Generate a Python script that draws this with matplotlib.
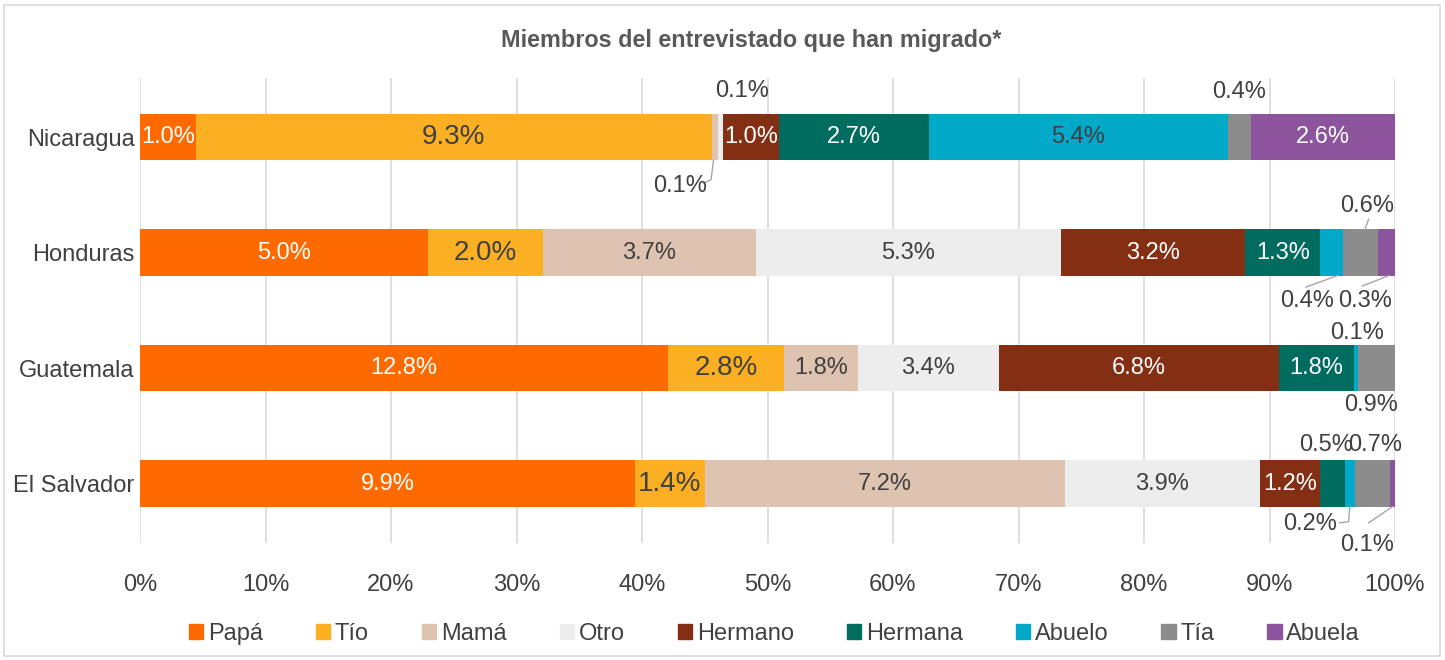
import matplotlib
matplotlib.use("Agg")
import matplotlib.pyplot as plt
from matplotlib.patches import Rectangle
from matplotlib.lines import Line2D
import numpy as np

plt.rcParams['font.family'] = ['Liberation Sans', 'DejaVu Sans']

title = "Miembros del entrevistado que han migrado*"
countries = ["Nicaragua", "Honduras", "Guatemala", "El Salvador"]
members = ["Papá", "Tío", "Mamá", "Otro", "Hermano", "Hermana", "Abuelo", "Tía", "Abuela"]
# values in % per country (Nicaragua, Honduras, Guatemala, El Salvador)
papa    = [1.0, 5.0, 12.8, 9.9]
tio     = [9.3, 2.0, 2.8, 1.4]
mama    = [0.1, 3.7, 1.8, 7.2]
otro    = [0.1, 5.3, 3.4, 3.9]
hermano = [1.0, 3.2, 6.8, 1.2]
hermana = [2.7, 1.3, 1.8, 0.5]
abuelo  = [5.4, 0.4, 0.1, 0.2]
tia     = [0.4, 0.6, 0.9, 0.7]
abuela  = [2.6, 0.3, 0.0, 0.1]
xticks = [0, 10, 20, 30, 40, 50, 60, 70, 80, 90, 100]

series = [papa, tio, mama, otro, hermano, hermana, abuelo, tia, abuela]
colors = ["#FF6A00", "#FBB024", "#DFC3B1", "#EDEDED", "#842F14",
          "#006B5F", "#03A9C9", "#8C8C8C", "#8B549C"]
label_colors = ["white", "#404040", "#404040", "#404040", "white",
                "white", "#404040", "#404040", "white"]
dark = "#404040"

vals = np.array(series, dtype=float)  # shape (9, 4)
totals = vals.sum(axis=0)
shares = vals / totals * 100

fig = plt.figure(figsize=(14.45, 6.6), dpi=100)
fig.patch.set_facecolor("white")
fig.patches.append(Rectangle((4/1445, 4/660), 1-9/1445, 1-9/660, transform=fig.transFigure,
                             fill=False, edgecolor="#D9D9D9", linewidth=1.2))

ax = fig.add_axes([140/1445, 1-543/660, 1255/1445, 465/660])
y = np.arange(len(countries))
left = np.zeros(len(countries))
for i, (m, c) in enumerate(zip(members, colors)):
    ax.barh(y, shares[i], left=left, height=0.4, color=c, label=m, zorder=3)
    left = left + shares[i]

ax.set_xlim(0, 100)
ax.set_ylim(3.515, -0.511)
ax.set_xticks(xticks)
ax.set_xticklabels([f"{t}%" for t in xticks], fontsize=17, color=dark)
ax.set_yticks(y)
ax.set_yticklabels(countries, fontsize=17, color=dark)
ax.tick_params(axis='x', length=0, pad=22)
ax.tick_params(axis='y', length=0, pad=4)
ax.grid(axis='x', color="#D9D9D9", linewidth=1.2, zorder=0)
for s in ax.spines.values():
    s.set_visible(False)

# in-bar labels for segments wide enough
starts = np.cumsum(np.vstack([np.zeros(4), shares[:-1]]), axis=0)
for i in range(len(members)):
    for j in range(len(countries)):
        v = vals[i, j]
        w = shares[i, j]
        if v <= 0 or w < 3.0:
            continue
        fs = 20 if i == 1 else 17
        ax.text(starts[i, j] + w / 2, j, f"{v:.1f}%", ha="center", va="center",
                fontsize=fs, color=label_colors[i], zorder=5)

# outside labels: (member idx, country idx, text x, text y, leader points or None)
outside = [
    (2, 0, 43.0, 0.42, [(45.7, 0.2), (45.5, 0.37), (44.9, 0.40)]),
    (3, 0, 48.0, -0.40, None),
    (7, 0, 87.6, -0.39, None),
    (7, 1, 97.8, 0.60, [(97.6, 0.80), (97.9, 0.71)]),
    (6, 1, 93.0, 1.42, [(95.4, 1.20), (92.9, 1.30)]),
    (8, 1, 97.6, 1.42, [(99.5, 1.20), (97.4, 1.29)]),
    (6, 2, 97.0, 1.70, None),
    (7, 2, 98.1, 2.32, None),
    (5, 3, 94.5, 2.67, None),
    (7, 3, 98.4, 2.67, None),
    (6, 3, 93.2, 3.35, [(96.4, 3.20), (96.3, 3.33), (95.6, 3.34)]),
    (8, 3, 97.8, 3.53, [(99.8, 3.20), (97.9, 3.34)]),
]
for i, j, tx, ty, pts in outside:
    ax.text(tx, ty, f"{vals[i, j]:.1f}%", ha="center", va="center",
            fontsize=17, color=dark, zorder=6, clip_on=False)
    if pts:
        xs, ys = zip(*pts)
        ax.add_line(Line2D(xs, ys, color="#A6A6A6", linewidth=1, zorder=4, clip_on=False))

fig.text(751/1445, 1-40/660, title, ha="center", va="center", fontsize=16.8,
         fontweight="bold", color="#595959")

handles = [Rectangle((0, 0), 1, 1, color=c) for c in colors]
fig.legend(handles, members, loc="center", bbox_to_anchor=(0.536, 1-634/660), ncol=9,
           frameon=False, fontsize=17, handlelength=0.6, handleheight=0.6,
           handletextpad=0.2, columnspacing=2.25, labelcolor=dark)

fig.savefig("out.png", dpi=100)
